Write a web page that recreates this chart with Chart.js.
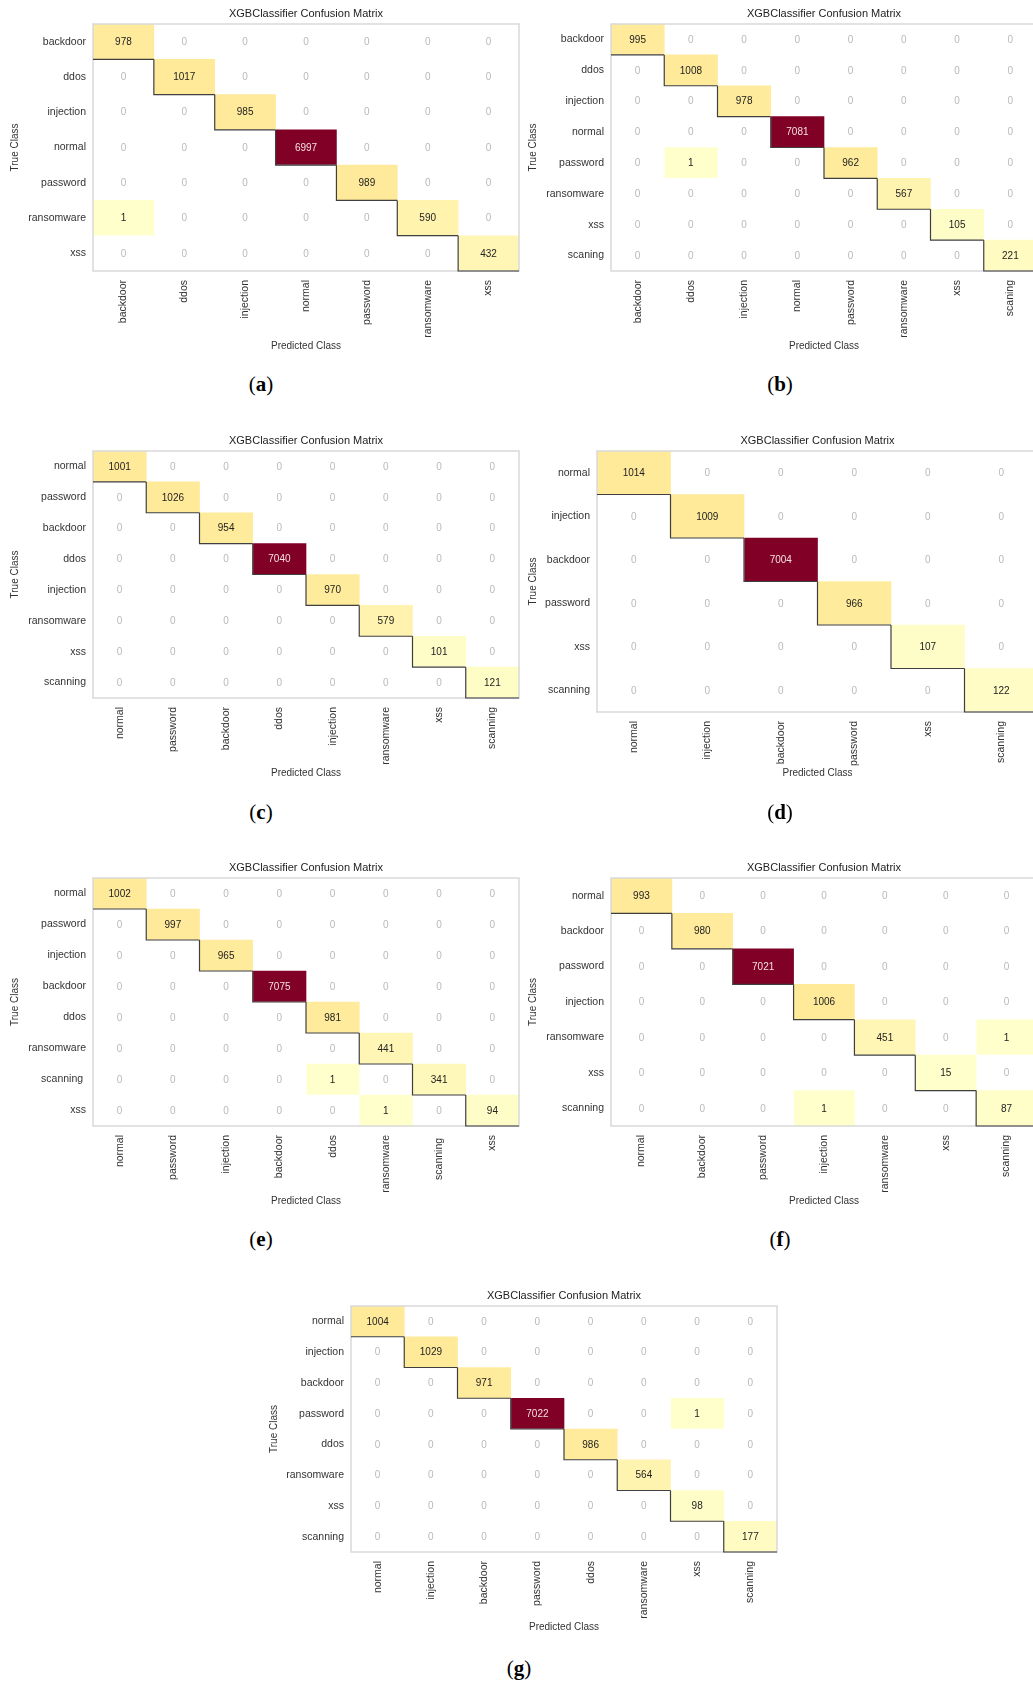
<!DOCTYPE html>
<html>
<head>
<meta charset="utf-8">
<script src="https://cdn.jsdelivr.net/npm/chart.js@4/dist/chart.umd.min.js"></script>
<style>
  html, body { margin: 0; padding: 0; background: #fff; width: 1033px; height: 1682px; overflow: hidden; position: relative; }
  .panel { position: absolute; }
  .cap { position: absolute; transform: translate(-50%, -50%); font-family: "Liberation Serif", "DejaVu Serif", serif; font-size: 21px; color: #000; white-space: nowrap; }
  .cap b { font-weight: bold; }
</style>
</head>
<body>
<script>
// ---- (a) ----
const classesA = ['backdoor', 'ddos', 'injection', 'normal', 'password', 'ransomware', 'xss'];
const countsA = [
  [978, 0, 0, 0, 0, 0, 0],
  [0, 1017, 0, 0, 0, 0, 0],
  [0, 0, 985, 0, 0, 0, 0],
  [0, 0, 0, 6997, 0, 0, 0],
  [0, 0, 0, 0, 989, 0, 0],
  [1, 0, 0, 0, 0, 590, 0],
  [0, 0, 0, 0, 0, 0, 432]
];

// ---- (b) ----
const classesB = ['backdoor', 'ddos', 'injection', 'normal', 'password', 'ransomware', 'xss', 'scaning'];
const countsB = [
  [995, 0, 0, 0, 0, 0, 0, 0],
  [0, 1008, 0, 0, 0, 0, 0, 0],
  [0, 0, 978, 0, 0, 0, 0, 0],
  [0, 0, 0, 7081, 0, 0, 0, 0],
  [0, 1, 0, 0, 962, 0, 0, 0],
  [0, 0, 0, 0, 0, 567, 0, 0],
  [0, 0, 0, 0, 0, 0, 105, 0],
  [0, 0, 0, 0, 0, 0, 0, 221]
];

// ---- (c) ----
const classesC = ['normal', 'password', 'backdoor', 'ddos', 'injection', 'ransomware', 'xss', 'scanning'];
const countsC = [
  [1001, 0, 0, 0, 0, 0, 0, 0],
  [0, 1026, 0, 0, 0, 0, 0, 0],
  [0, 0, 954, 0, 0, 0, 0, 0],
  [0, 0, 0, 7040, 0, 0, 0, 0],
  [0, 0, 0, 0, 970, 0, 0, 0],
  [0, 0, 0, 0, 0, 579, 0, 0],
  [0, 0, 0, 0, 0, 0, 101, 0],
  [0, 0, 0, 0, 0, 0, 0, 121]
];

// ---- (d) ----
const classesD = ['normal', 'injection', 'backdoor', 'password', 'xss', 'scanning'];
const countsD = [
  [1014, 0, 0, 0, 0, 0],
  [0, 1009, 0, 0, 0, 0],
  [0, 0, 7004, 0, 0, 0],
  [0, 0, 0, 966, 0, 0],
  [0, 0, 0, 0, 107, 0],
  [0, 0, 0, 0, 0, 122]
];

// ---- (e) ----
const classesE = ['normal', 'password', 'injection', 'backdoor', 'ddos', 'ransomware', 'scanning ', 'xss'];
const countsE = [
  [1002, 0, 0, 0, 0, 0, 0, 0],
  [0, 997, 0, 0, 0, 0, 0, 0],
  [0, 0, 965, 0, 0, 0, 0, 0],
  [0, 0, 0, 7075, 0, 0, 0, 0],
  [0, 0, 0, 0, 981, 0, 0, 0],
  [0, 0, 0, 0, 0, 441, 0, 0],
  [0, 0, 0, 0, 1, 0, 341, 0],
  [0, 0, 0, 0, 0, 1, 0, 94]
];

// ---- (f) ----
const classesF = ['normal', 'backdoor', 'password', 'injection', 'ransomware', 'xss', 'scanning'];
const countsF = [
  [993, 0, 0, 0, 0, 0, 0],
  [0, 980, 0, 0, 0, 0, 0],
  [0, 0, 7021, 0, 0, 0, 0],
  [0, 0, 0, 1006, 0, 0, 0],
  [0, 0, 0, 0, 451, 0, 1],
  [0, 0, 0, 0, 0, 15, 0],
  [0, 0, 0, 1, 0, 0, 87]
];

// ---- (g) ----
const classesG = ['normal', 'injection', 'backdoor', 'password', 'ddos', 'ransomware', 'xss', 'scanning'];
const countsG = [
  [1004, 0, 0, 0, 0, 0, 0, 0],
  [0, 1029, 0, 0, 0, 0, 0, 0],
  [0, 0, 971, 0, 0, 0, 0, 0],
  [0, 0, 0, 7022, 0, 0, 1, 0],
  [0, 0, 0, 0, 986, 0, 0, 0],
  [0, 0, 0, 0, 0, 564, 0, 0],
  [0, 0, 0, 0, 0, 0, 98, 0],
  [0, 0, 0, 0, 0, 0, 0, 177]
];

const chartTitle = 'XGBClassifier Confusion Matrix';
const xTitle = 'Predicted Class';
const yTitle = 'True Class';

// Page placement of each matrix: plot rectangle [left, top, right, bottom],
// centre of the "True Class" label, gap to the "Predicted Class" label, caption centre.
const panels = [
  { tag: 'a', classes: classesA, counts: countsA, plot: [93, 24, 519, 271],    yTitleX: 15,  xTitleGap: 75, cap: [261, 384] },
  { tag: 'b', classes: classesB, counts: countsB, plot: [611, 24, 1037, 271],  yTitleX: 533, xTitleGap: 75, cap: [780, 384] },
  { tag: 'c', classes: classesC, counts: countsC, plot: [93, 451, 519, 698],   yTitleX: 15,  xTitleGap: 75, cap: [261, 812] },
  { tag: 'd', classes: classesD, counts: countsD, plot: [597, 451, 1038, 712], yTitleX: 533, xTitleGap: 61, cap: [780, 812] },
  { tag: 'e', classes: classesE, counts: countsE, plot: [93, 878, 519, 1126],  yTitleX: 15,  xTitleGap: 75, cap: [261, 1239] },
  { tag: 'f', classes: classesF, counts: countsF, plot: [611, 878, 1037, 1126], yTitleX: 533, xTitleGap: 75, cap: [780, 1239] },
  { tag: 'g', classes: classesG, counts: countsG, plot: [351, 1306, 777, 1552], yTitleX: 274, xTitleGap: 75, cap: [519, 1668] }
];

// YlOrRd sequential palette
const ylOrRd = ['#ffffcc', '#ffeda0', '#fed976', '#feb24c', '#fd8d3c', '#fc4e2a', '#e31a1c', '#bd0026', '#800026'];
function hexRgb(h) { return [1, 3, 5].map(k => parseInt(h.substr(k, 2), 16)); }
function heat(v, vmax) {
  if (v === 0) return '#ffffff';
  const t = (v / vmax) * (ylOrRd.length - 1);
  const i = Math.min(Math.floor(t), ylOrRd.length - 2);
  const f = t - i;
  const a = hexRgb(ylOrRd[i]), b = hexRgb(ylOrRd[i + 1]);
  const c = a.map((u, k) => Math.round(u + (b[k] - u) * f));
  return `rgb(${c[0]},${c[1]},${c[2]})`;
}

const FONT = '"Liberation Sans", Arial, sans-serif';
Chart.defaults.font.family = FONT;

// Cell values, frame, diagonal step outline and the heading
const matrixDecor = {
  id: 'matrixDecor',
  afterDatasetsDraw(chart, args, opts) {
    const { ctx, chartArea: a, scales: { x, y } } = chart;
    const m = opts.counts, n = m.length;
    const vmax = Math.max(...m.flat());
    ctx.save();
    ctx.font = '10px ' + FONT;
    ctx.textAlign = 'center';
    ctx.textBaseline = 'middle';
    for (let i = 0; i < n; i++) {
      for (let j = 0; j < n; j++) {
        const v = m[i][j];
        if (v === 0) ctx.fillStyle = '#b9b9b9';
        else if (v / vmax > 0.55) ctx.fillStyle = '#f2dfe4';
        else ctx.fillStyle = '#222';
        ctx.fillText(String(v), x.getPixelForValue(j + 0.5), y.getPixelForValue(i) + 0.5);
      }
    }
    ctx.strokeStyle = '#d9d9d9';
    ctx.lineWidth = 1.5;
    ctx.strokeRect(a.left, a.top, a.right - a.left, a.bottom - a.top);

    ctx.strokeStyle = '#3f3f3f';
    ctx.lineWidth = 1.2;
    ctx.beginPath();
    for (let i = 0; i < n; i++) {
      const xl = x.getPixelForValue(i), xr = x.getPixelForValue(i + 1);
      const yb = y.getPixelForValue(i + 0.5);
      if (i === 0) ctx.moveTo(xl, yb); else ctx.lineTo(xl, yb);
      ctx.lineTo(xr, yb);
      if (i < n - 1) ctx.moveTo(xr, yb);
    }
    ctx.stroke();

    ctx.fillStyle = '#222';
    ctx.font = '11px ' + FONT;
    ctx.fillText(opts.title, (a.left + a.right) / 2, a.top - 10);
    ctx.restore();
  }
};

const X_AXIS_H = 90;
const TOP_PAD = 24;

panels.forEach(p => {
  const [pl, pt, pr, pb] = p.plot;
  const left = p.yTitleX - 15;
  const top = pt - TOP_PAD;
  const right = pr + 2;
  const width = right - left;
  const height = pb + X_AXIS_H - top;
  const yAxisW = pl - left;

  const wrap = document.createElement('div');
  wrap.className = 'panel';
  wrap.style.left = left + 'px';
  wrap.style.top = top + 'px';
  wrap.style.width = width + 'px';
  wrap.style.height = height + 'px';
  const cv = document.createElement('canvas');
  cv.width = width; cv.height = height;
  cv.style.width = width + 'px'; cv.style.height = height + 'px';
  wrap.appendChild(cv);
  document.body.appendChild(wrap);

  const cap = document.createElement('div');
  cap.className = 'cap';
  cap.style.left = p.cap[0] + 'px';
  cap.style.top = p.cap[1] + 'px';
  cap.innerHTML = '(<b>' + p.tag + '</b>)';
  document.body.appendChild(cap);

  const n = p.classes.length;
  const vmax = Math.max(...p.counts.flat());
  const datasets = p.classes.map((c, j) => ({
    label: c,
    data: p.classes.map(() => [j, j + 1]),
    backgroundColor: p.counts.map(row => heat(row[j], vmax)),
    borderWidth: 0,
    grouped: false,
    barPercentage: 1,
    categoryPercentage: 1
  }));

  new Chart(cv, {
    type: 'bar',
    data: { labels: p.classes, datasets },
    options: {
      indexAxis: 'y',
      responsive: false,
      animation: false,
      events: [],
      layout: { padding: { top: TOP_PAD, left: 0, bottom: 0, right: width - (pr - left) } },
      plugins: {
        legend: { display: false },
        tooltip: { enabled: false },
        matrixDecor: { counts: p.counts, title: chartTitle }
      },
      scales: {
        x: {
          type: 'linear',
          min: 0,
          max: n,
          grid: { display: false, drawTicks: false },
          border: { display: false },
          afterBuildTicks: s => { s.ticks = p.classes.map((c, j) => ({ value: j + 0.5 })); },
          afterFit: s => { s.height = X_AXIS_H; },
          ticks: {
            autoSkip: false,
            minRotation: 90,
            maxRotation: 90,
            padding: 9,
            color: '#333',
            font: { size: 10.5 },
            callback: v => p.classes[Math.floor(v)]
          },
          title: {
            display: true,
            text: xTitle,
            color: '#333',
            font: { size: 10 },
            padding: { top: 0, bottom: X_AXIS_H - 6 - p.xTitleGap }
          }
        },
        y: {
          type: 'category',
          grid: { display: false, drawTicks: false },
          border: { display: false },
          afterFit: s => { s.width = yAxisW; },
          ticks: { padding: 7, color: '#333', font: { size: 10.5 } },
          title: {
            display: true,
            text: yTitle,
            color: '#333',
            font: { size: 10 },
            padding: { top: 9, bottom: 0 }
          }
        }
      }
    },
    plugins: [matrixDecor]
  });
});
</script>
</body>
</html>
